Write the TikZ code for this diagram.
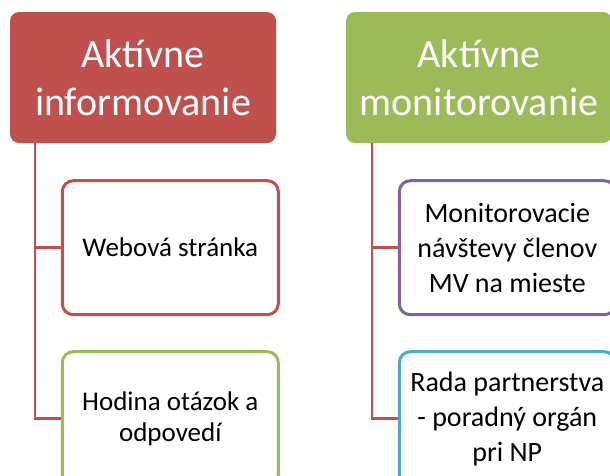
\documentclass[tikz,border=0pt]{standalone}
\usepackage{fontspec}
\setmainfont{Carlito}
\usepackage{xcolor}
\usepackage{tikz}
\usetikzlibrary{positioning}
\definecolor{redhead}{HTML}{C0504D}
\definecolor{greenhead}{HTML}{9BBB59}
\definecolor{purplekid}{HTML}{8064A2}
\definecolor{cyankid}{HTML}{4BACC6}

\begin{document}
\begin{tikzpicture}[
    x=1pt, y=-1pt,
    node distance=34pt and 51pt,
    head/.style={rectangle, fill=#1, text=white, minimum width=266pt, minimum height=131pt, inner sep=0pt, align=center, rounded corners=9pt, font=\fontsize{40}{48}\selectfont},
    kid/.style={rectangle, draw=#1, line width=3pt, fill=white, minimum width=216pt, minimum height=134pt, inner sep=0pt, align=center, rounded corners=11pt},
    leftkid/.style={kid=#1, font=\fontsize{27}{31}\selectfont},
    rightkid/.style={kid=#1, font=\fontsize{28}{35}\selectfont},
    link/.style={draw=redhead, line width=2.6pt}
]
\useasboundingbox (0,0) rectangle (610,475);
\clip (0,0) rectangle (610,475);

% Headers
\node[head=redhead] (info) at (143,77.5) {Aktívne\\informovanie};
\node[head=greenhead] (moni) at (479,77.5) {Aktívne\\monitorovanie};

% Left column
\node[leftkid=redhead, below right=36pt and 51pt of info.south west, anchor=north west] (web) {Webová stránka};
\node[leftkid=greenhead, below=34pt of web] (hodina) {Hodina otázok a\\odpovedí};

% Right column
\node[rightkid=purplekid, below right=36pt and 52pt of moni.south west, anchor=north west] (navstevy) {Monitorovacie\\návštevy členov\\MV na mieste};
\node[rightkid=cyankid, below=34pt of navstevy] (rada) {Rada partnerstva\\- poradný orgán\\pri NP};

% Connectors
\draw[link] ([xshift=25pt]info.south west) |- (web.west);
\draw[link] ([xshift=25pt]info.south west) |- (hodina.west);
\draw[link] ([xshift=26pt]moni.south west) |- (navstevy.west);
\draw[link] ([xshift=26pt]moni.south west) |- (rada.west);

\end{tikzpicture}
\end{document}
